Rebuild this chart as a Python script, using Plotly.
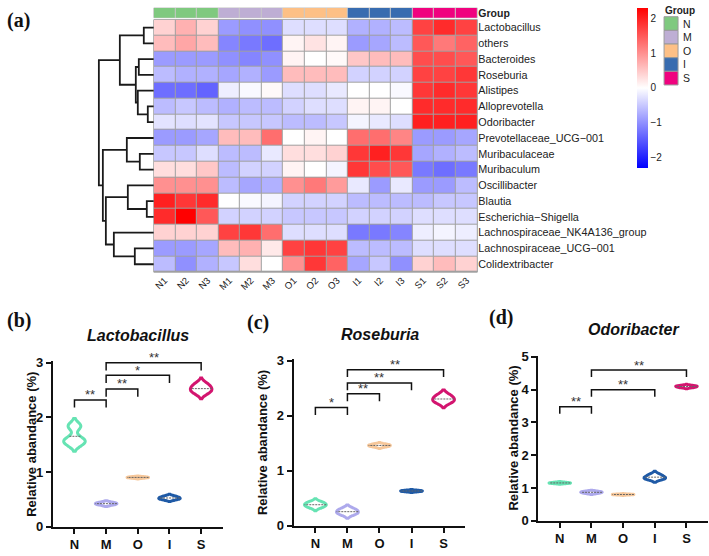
import numpy as np
import plotly.graph_objects as go

W, H = 709, 556
def px(x):
    return x / W
def py(y):
    return 1 - y / H

SANS = "Liberation Sans, Arial, sans-serif"
SERIF = "Liberation Serif, Times New Roman, serif"

# ---------------- heatmap data ----------------
samples = ["N1", "N2", "N3", "M1", "M2", "M3", "O1", "O2", "O3",
           "I1", "I2", "I3", "S1", "S2", "S3"]
sample_group_idx = [0, 0, 0, 1, 1, 1, 2, 2, 2, 3, 3, 3, 4, 4, 4]
groups = ["N", "M", "O", "I", "S"]
group_colors = ["#7FC97F", "#BEAED4", "#FDC086", "#386CB0", "#F0027F"]

taxa = ["Lactobacillus", "others", "Bacteroides", "Roseburia", "Alistipes",
        "Alloprevotella", "Odoribacter", "Prevotellaceae_UCG\u2212001",
        "Muribaculaceae", "Muribaculum", "Oscillibacter", "Blautia",
        "Escherichia\u2212Shigella", "Lachnospiraceae_NK4A136_group",
        "Lachnospiraceae_UCG\u2212001", "Colidextribacter"]

zscores = [
    [0.4, 0.7, 0.4, -0.9, -1.0, -1.0, -0.3, -0.3, -0.3, -0.7, -0.7, -0.6, 1.7, 1.9, 1.7],
    [0.6, 0.8, 0.6, -1.1, -1.2, -1.3, 0.1, 0.25, 0.1, -0.9, -0.8, -0.6, 1.5, 1.2, 1.4],
    [-0.9, -0.9, -0.9, -1.0, -1.1, -1.0, 0.1, 0.0, 0.05, 0.5, 0.6, 0.6, 1.6, 1.6, 1.5],
    [-0.6, -0.7, -0.7, -0.8, -0.7, -0.9, 0.6, 0.6, 0.6, -0.4, -0.4, -0.4, 1.7, 1.7, 1.8],
    [-1.3, -1.3, -1.4, -0.15, -0.05, 0.05, -0.3, -0.3, -0.2, 0.0, 0.0, -0.05, 1.8, 1.9, 1.8],
    [-0.6, -0.5, -0.6, -0.7, -0.6, -0.6, -0.4, -0.3, -0.3, 0.1, 0.1, 0.0, 1.9, 1.9, 1.9],
    [-0.25, -0.3, -0.25, -0.5, -0.5, -0.5, -0.6, -0.6, -0.5, -0.1, -0.2, -0.3, 2.0, 2.0, 2.0],
    [-0.9, -0.9, -0.8, 0.6, 0.6, 1.3, 0.0, 0.1, 0.0, 1.3, 1.3, 1.1, -0.9, -0.9, -0.8],
    [-0.5, -0.5, -0.3, -0.6, -0.6, -0.2, 0.3, 0.3, 0.4, 1.8, 2.0, 1.8, -0.8, -0.7, -0.6],
    [0.3, 0.3, 0.5, -0.6, -0.4, -0.4, 0.1, 0.0, -0.1, 1.8, 1.6, 1.5, -1.2, -1.3, -1.2],
    [1.0, 1.0, 1.0, -0.6, -0.8, -0.7, 1.0, 1.2, 0.9, -0.2, -0.9, -0.2, -0.9, -0.9, -0.6],
    [2.0, 1.8, 1.9, 0.0, -0.05, -0.1, -0.4, -0.4, -0.4, -0.6, -0.6, -0.6, -0.6, -0.5, -0.5],
    [1.9, 2.3, 1.5, -0.4, -0.4, -0.4, -0.5, -0.5, -0.5, -0.4, -0.4, -0.4, -0.3, -0.3, -0.3],
    [0.4, 0.4, 0.4, 1.7, 1.8, 1.3, -0.3, -0.3, -0.3, -1.2, -1.2, -1.1, -0.15, -0.1, -0.15],
    [-0.9, -0.9, -0.8, 0.6, 0.7, 0.2, 1.7, 1.8, 1.7, -0.6, -0.6, -0.6, -0.3, -0.3, -0.3],
    [-0.6, -1.0, -0.7, -0.5, 0.3, 0.0, 1.0, 1.8, 1.4, -0.8, -0.5, -1.0, 0.4, 0.6, 0.4],
]
z_limit = 2.29
colorbar_ticks = [-2, -1, 0, 1, 2]

# row dendrogram: (child_a, child_b, height); leaves 0..15, merged nodes 16+k
row_linkage = [
    (0, 1, 10), (2, 3, 15), (5, 6, 6), (4, 18, 16), (17, 19, 18),
    (16, 20, 34), (8, 9, 14), (7, 22, 27), (11, 12, 7), (10, 24, 26),
    (14, 15, 19), (13, 26, 40), (25, 27, 48), (23, 28, 51), (21, 29, 55),
]

# ---------------- violin data (relative abundance, %) ----------------
lacto = {"N": [1.52, 1.60, 1.84], "M": [0.40, 0.42, 0.44], "O": [0.89, 0.90, 0.91],
         "I": [0.50, 0.52, 0.55], "S": [2.46, 2.52, 2.60]}
rose = {"N": [0.34, 0.38, 0.42], "M": [0.21, 0.25, 0.30], "O": [1.44, 1.46, 1.48],
        "I": [0.62, 0.63, 0.64], "S": [2.25, 2.30, 2.37]}
odori = {"N": [1.14, 1.15, 1.17], "M": [0.84, 0.87, 0.89], "O": [0.79, 0.80, 0.81],
         "I": [1.28, 1.31, 1.40], "S": [4.07, 4.10, 4.12]}
violin_colors = {"N": "#66E3B3", "M": "#ADA9EC", "O": "#F6C79A", "I": "#1F5AA6", "S": "#D3156F"}
# kernel bandwidth overrides (style)
lacto_bw = {"N": 0.07}
rose_bw = {}
odori_bw = {}

lacto_sig = [("N", "M", 2.32, "**"), ("M", "O", 2.52, "**"), ("M", "I", 2.77, "*"), ("M", "S", 3.0, "**")]
rose_sig = [("N", "M", 2.15, "*"), ("M", "O", 2.40, "**"), ("M", "I", 2.60, "**"), ("M", "S", 2.84, "**")]
odori_sig = [("N", "M", 3.48, "**"), ("M", "I", 4.0, "**"), ("M", "S", 4.6, "**")]

fig = go.Figure()

# ---------------- heatmap ----------------
fig.add_trace(go.Heatmap(
    z=zscores, x=list(range(len(samples))), y=list(range(len(taxa))),
    colorscale=[[0, "#0000FF"], [0.5, "#FFFFFF"], [1, "#FF0000"]],
    zmin=-z_limit, zmax=z_limit, xgap=1, ygap=1,
    xaxis="x", yaxis="y",
    colorbar=dict(x=px(637), xanchor="left", y=py(2), yanchor="top",
                  xpad=0, ypad=0,
                  thickness=11, thicknessmode="pixels", len=160, lenmode="pixels",
                  tickvals=colorbar_ticks, ticks="", outlinewidth=0,
                  tickfont=dict(family=SANS, size=10, color="#222")),
))

# group annotation bar
ng = len(groups)
disc_scale = []
for i, c in enumerate(group_colors):
    disc_scale += [[i / ng, c], [(i + 1) / ng, c]]
fig.add_trace(go.Heatmap(
    z=[sample_group_idx], x=list(range(len(samples))), y=[0],
    colorscale=disc_scale, zmin=-0.5, zmax=ng - 0.5, showscale=False,
    xgap=1, ygap=0, xaxis="x2", yaxis="y2", hoverinfo="skip",
))

# dendrogram
node_pos = {i: float(i) for i in range(len(taxa))}
node_h = {i: 0.0 for i in range(len(taxa))}
dx, dy = [], []
for k, (a, b, h) in enumerate(row_linkage):
    nid = len(taxa) + k
    dx += [node_h[a], h, h, node_h[b], None]
    dy += [node_pos[a], node_pos[a], node_pos[b], node_pos[b], None]
    node_pos[nid] = (node_pos[a] + node_pos[b]) / 2
    node_h[nid] = h
fig.add_trace(go.Scatter(x=dx, y=dy, mode="lines", line=dict(color="#1a1a1a", width=1.8),
                         xaxis="x3", yaxis="y3", showlegend=False, hoverinfo="skip"))

# ---------------- violin panels ----------------
panels = [(lacto, lacto_sig, lacto_bw, "4", "Lactobacillus"),
          (rose, rose_sig, rose_bw, "5", "Roseburia"),
          (odori, odori_sig, odori_bw, "6", "Odoribacter")]
annotations = []
for data, sig, bw, ax, title in panels:
    for g in groups:
        kw = {}
        if g in bw:
            kw["bandwidth"] = bw[g]
        fig.add_trace(go.Violin(
            x=[g] * len(data[g]), y=data[g], name=g,
            line=dict(color=violin_colors[g], width=3), fillcolor="white",
            points=False, box_visible=False, width=0.68,
            meanline=dict(visible=True, color="#666", width=1),
            xaxis="x" + ax, yaxis="y" + ax, showlegend=False, hoverinfo="skip", **kw
        ))
    # significance brackets
    ymax = max(s[2] for s in sig)
    drop = 0.047 * ymax
    bx, by = [], []
    for a, b, yv, lab in sig:
        bx += [a, a, b, b, None]
        by += [yv - drop, yv, yv, yv - drop, None]
        mid = (groups.index(a) + groups.index(b)) / 2
        annotations.append(dict(x=mid, y=yv, xref="x" + ax, yref="y" + ax, text=lab,
                                showarrow=False, yanchor="middle", yshift=5,
                                font=dict(family=SANS, size=13, color="#333")))
    fig.add_trace(go.Scatter(x=bx, y=by, mode="lines", line=dict(color="#111", width=1.5),
                             xaxis="x" + ax, yaxis="y" + ax, showlegend=False, hoverinfo="skip"))

layout = dict(
    width=W, height=H, margin=dict(l=0, r=0, t=0, b=0),
    paper_bgcolor="white", plot_bgcolor="white", showlegend=False,
    violinmode="overlay",
    font=dict(family=SANS, color="#111"),
)

# heatmap axes
hm_x0, hm_x1 = 153, 477
hm_y0, hm_y1 = 14, 273
layout["xaxis"] = dict(domain=[px(hm_x0), px(hm_x1)], anchor="y", range=[-0.5, len(samples) - 0.5],
                       tickvals=list(range(len(samples))), ticktext=samples, tickangle=-45,
                       ticks="", showgrid=False, zeroline=False, showline=False,
                       tickfont=dict(family=SANS, size=9.5, color="#222"))
layout["yaxis"] = dict(domain=[py(hm_y1), py(hm_y0)], anchor="x", side="right",
                       range=[len(taxa) - 0.5, -0.5], tickvals=list(range(len(taxa))), ticktext=taxa,
                       ticks="", showgrid=False, zeroline=False, showline=False,
                       tickfont=dict(family=SANS, size=10.8, color="#222"))
layout["xaxis2"] = dict(domain=[px(hm_x0), px(hm_x1)], anchor="y2", range=[-0.5, len(samples) - 0.5],
                        visible=False)
layout["yaxis2"] = dict(domain=[py(12), py(2)], anchor="x2", side="right", range=[-0.5, 0.5],
                        tickvals=[0], ticktext=["<b>Group</b>"], ticks="", showgrid=False,
                        zeroline=False, tickfont=dict(family=SANS, size=10.5, color="#222"))
layout["xaxis3"] = dict(domain=[px(96), px(hm_x0)], anchor="y3", range=[57, 0], visible=False)
layout["yaxis3"] = dict(domain=[py(hm_y1), py(hm_y0)], anchor="x3", range=[len(taxa) - 0.5, -0.5],
                        visible=False)

# violin axes: (ax, x_left, x_right, y_bottom, px_per_unit, y_top, tickvals, title_x)
vspec = [("4", 52, 222, 534, 56.0, 3.03, [0, 1, 2, 3], 31),
         ("5", 293, 465, 533, 56.3, 3.03, [0, 1, 2, 3], 262),
         ("6", 538, 708, 528, 33.6, 5.03, [0, 1, 2, 3, 4, 5], 513)]
for ax, xl, xr, yb, ppu, ytop, tv, tx in vspec:
    ytop_px = yb - ytop * ppu
    layout["xaxis" + ax] = dict(domain=[px(xl), px(xr)], anchor="y" + ax, type="category",
                                categoryorder="array", categoryarray=groups, range=[-0.68, 4.68],
                                showline=True, linewidth=2, linecolor="#111", ticks="outside",
                                ticklen=5, tickwidth=2, tickcolor="#111", showgrid=False,
                                zeroline=False,
                                tickfont=dict(family=SANS, size=13, color="#111", weight="bold"))
    layout["yaxis" + ax] = dict(domain=[py(yb), py(ytop_px)], anchor="x" + ax,
                                range=[0, ytop], tickvals=tv, showline=True, linewidth=2,
                                linecolor="#111", ticks="outside", ticklen=5, tickwidth=2,
                                tickcolor="#111", showgrid=False, zeroline=False,
                                tickfont=dict(family=SANS, size=13, color="#111", weight="bold"))
    annotations.append(dict(x=px(tx), y=py((yb + ytop_px) / 2),
                            xref="paper", yref="paper", text="<b>Relative abandance (%)</b>",
                            textangle=-90, showarrow=False, xanchor="center", yanchor="middle",
                            font=dict(family=SANS, size=13, color="#111")))
fig.update_layout(**layout)

# grey cell borders behind heatmap and group bar
shapes = [
    dict(type="rect", xref="paper", yref="paper", x0=px(hm_x0), x1=px(hm_x1),
         y0=py(hm_y1), y1=py(hm_y0), fillcolor="#a0a0a0", line=dict(color="#a0a0a0", width=1),
         layer="below"),
    dict(type="rect", xref="paper", yref="paper", x0=px(hm_x0), x1=px(hm_x1),
         y0=py(12), y1=py(2), fillcolor="#c8c8c8", line=dict(color="#c8c8c8", width=1),
         layer="below"),
]
# group legend
for i, (g, c) in enumerate(zip(groups, group_colors)):
    top = 11 + i * 14
    shapes.append(dict(type="rect", xref="paper", yref="paper", x0=px(664), x1=px(678),
                       y0=py(top + 14), y1=py(top), fillcolor=c,
                       line=dict(color="#9a9a9a", width=1)))
    annotations.append(dict(x=px(681), y=py(top + 7), xref="paper", yref="paper", text=g,
                            showarrow=False, xanchor="left", yanchor="middle",
                            font=dict(family=SANS, size=10.5, color="#222")))
annotations.append(dict(x=px(663), y=py(5), xref="paper", yref="paper", text="<b>Group</b>",
                        showarrow=False, xanchor="left", yanchor="middle",
                        font=dict(family=SANS, size=10, color="#222")))

# panel labels and titles
for lab, x, y in [("(a)", 4, 15), ("(b)", 4, 323), ("(c)", 244, 325), ("(d)", 487, 320)]:
    annotations.append(dict(x=px(x), y=py(y), xref="paper", yref="paper", text="<b>%s</b>" % lab,
                            showarrow=False, xanchor="left", yanchor="middle",
                            font=dict(family=SERIF, size=20, color="#111")))
for (data, sig, bw, ax, title), (cx, cy) in zip(panels, [(137, 338), (380, 337), (633, 332)]):
    annotations.append(dict(x=px(cx), y=py(cy), xref="paper", yref="paper",
                            text="<b><i>%s</i></b>" % title, showarrow=False,
                            xanchor="center", yanchor="middle",
                            font=dict(family=SANS, size=16, color="#111")))

fig.update_layout(shapes=shapes, annotations=annotations)
fig.write_html("out.html")
